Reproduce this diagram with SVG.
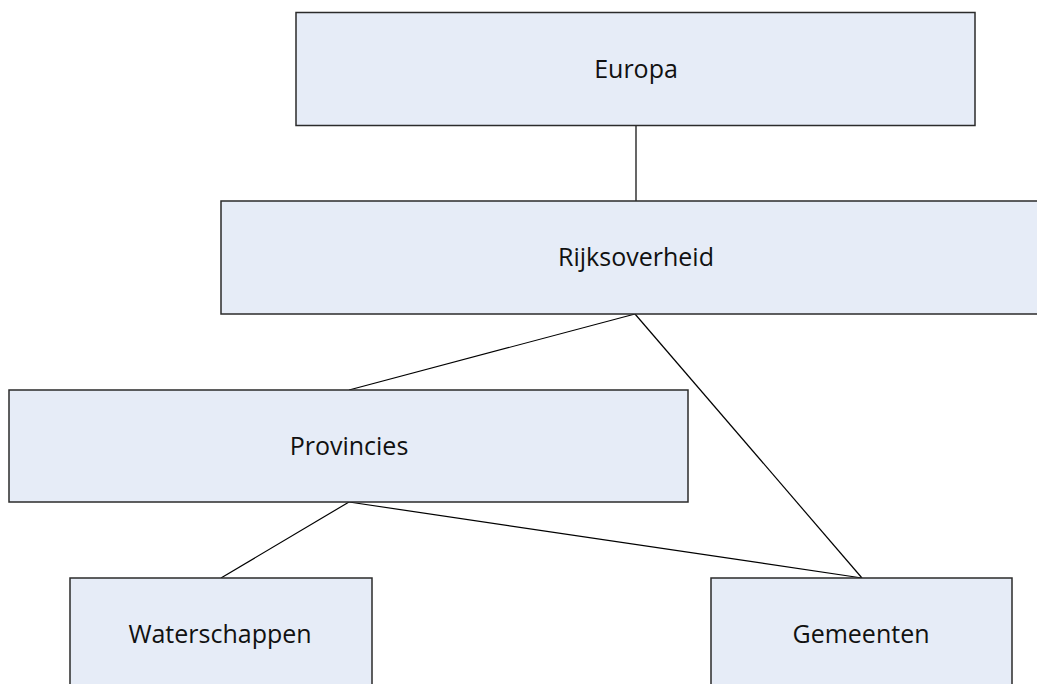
<svg xmlns="http://www.w3.org/2000/svg" width="1037" height="684" viewBox="0 0 1037 684">
  <style>
    .box { fill: #E6ECF7; stroke: #2b2b2b; stroke-width: 1.5; }
    .shadow { fill: none; stroke: #9a9a9a; stroke-width: 1; }
    .label { font-family: "Open Sans", "Liberation Sans", sans-serif; font-size: 25px; fill: #111; text-anchor: middle; }
    .link { stroke: #000; stroke-width: 1.2; fill: none; }
  </style>
  <rect x="0" y="0" width="1037" height="684" fill="#ffffff"/>

  <g id="connectors">
    <line class="link" x1="636" y1="126" x2="636" y2="201"/>
    <line class="link" x1="635" y1="314" x2="349" y2="390"/>
    <line class="link" x1="635" y1="314" x2="862" y2="578"/>
    <line class="link" x1="349" y1="502" x2="221" y2="578"/>
    <line class="link" x1="349" y1="502" x2="862" y2="578"/>
  </g>

  <g id="europa">
    <rect class="box" x="296" y="12.5" width="679" height="113"/>
    <text class="label" x="636" y="78">Europa</text>
  </g>

  <g id="rijksoverheid">
    <rect class="box" x="221" y="201" width="830" height="113"/>
    <text class="label" x="636" y="266">Rijksoverheid</text>
  </g>

  <g id="provincies">
    <rect class="box" x="9" y="390" width="679" height="112"/>
    <text class="label" x="349" y="455">Provincies</text>
  </g>

  <g id="waterschappen">
    <rect class="box" x="70" y="578" width="302" height="120"/>
    <text class="label" x="220" y="643">Waterschappen</text>
  </g>

  <g id="gemeenten">
    <rect class="box" x="711" y="578" width="301" height="120"/>
    <text class="label" x="861" y="643">Gemeenten</text>
  </g>
</svg>
